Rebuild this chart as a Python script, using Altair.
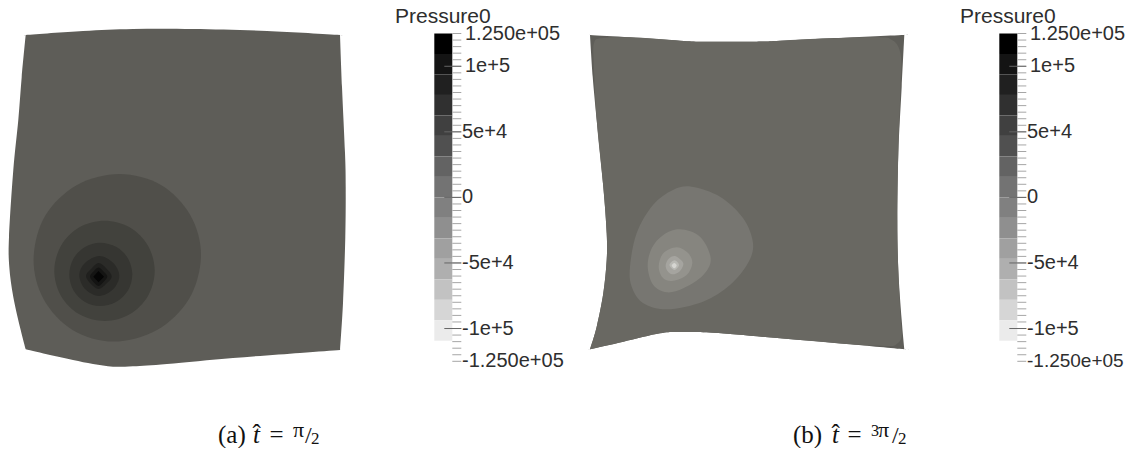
import altair as alt
import pandas as pd

# Image-space coordinates
A_OUT = [(25.7,35),(83,31),(133,29),(193,29),(267,31),(340,35),(342,87),(345,153),(345.7,187),(345.3,237),(343,303),(340,350),
         (300,353),(233,358),(167,364),(133,366.3),(113,366.7),(93,364),(73,360),(50,355),(25.7,349.3),(20.7,330),(13.3,297),
         (9.3,267),(9,237),(13.3,170),(18.3,120),(21.7,77)]
A_CORNERS = [0,5,11,20]
A_C1 = [(119.5,174),(161,185),(190.5,215.5),(201,256),(189,299),(157,330),(113.5,341.6),(72.5,330),(43.5,299),(33.6,259),(45,216),(77,185)]
A_C2 = [(104.5,220.7),(129.6,227.3),(148,245.7),(154.7,270.8),(148,295.9),(129.6,314.3),(105,321),(79.4,314.3),(61,295.9),(54.3,270.8),(61,245.7),(79.4,227.3)]
A_C3 = [(100,242.7),(116.5,247),(128,258.5),(132.3,274.5),(128,290.5),(116,302),(100,306),(85,302),(73.5,290.5),(69.3,274.5),(73.5,258.5),(85,247)]
A_C4 = [(99.3,256),(113.3,263),(119.3,276),(113.3,289),(99.3,296),(85,289),(79.3,275),(85,263)]
A_C5 = [(98.5,263),(106,268),(111.7,276.5),(106,284),(98.5,289),(91,284),(86,276),(91,269)]
A_C6 = [(98.5,267.5),(104,272),(107.3,276.5),(104,281.5),(98.5,286),(93,281.5),(90,276.5),(93,272)]
A_C7 = [(98.5,271),(104,276.7),(98.5,282.3),(93.3,276.7)]
A_COL = ["#5e5d58","#504f4a","#42423d","#363632","#2b2b28","#20201e","#141413","#050505"]

B_OUT = [(590,35),(630,37.3),(680,40.7),(703.3,41.7),(756.7,41.7),(780,40.7),(830,38.3),(904.3,35),(901.7,86.7),(898.3,153.3),
         (897.3,220),(898.3,270),(901.7,320),(904.3,349.3),(846.7,344),(780,338.3),(713.3,332.7),(680,332),(660,333.3),(623.3,341.7),
         (590,349.3),(596.7,326.7),(603.3,293.3),(606.7,260),(606.7,233.3),(603.3,186.7),(596.7,120),(592.7,76.7)]
B_CORNERS = [0,7,13,20]
B_IN = [(593.3,53.3),(594,43.3),(600,38.3),(630,37.3),(680,40.7),(703.3,41.7),(756.7,41.7),(780,40.7),(830,38.3),(880,37.3),(892,40),
        (898.3,46.7),(901.3,60),(900.5,86.7),(898.3,153.3),(897.3,220),(898.3,270),(900.7,320),(901.7,336.7),(896.7,344),(888.3,346),
        (846.7,344),(780,338.3),(713.3,332.7),(680,332),(660,333.3),(623.3,341.7),(590,349.3),(596.7,326.7),(603.3,293.3),(606.7,260),
        (606.7,233.3),(603.3,186.7),(596.7,120)]
B_IN_CORNERS = [27]
B_C1 = [(691.7,186.7),(720,196.7),(743,218),(753,243),(748,263),(730,285),(703,301.7),(666.7,309.3),(643,303),(631.7,286.7),(630,266.7),(636.7,233),(653,205),(673,190)]
B_C2 = [(680,229.3),(700,236.7),(710.7,258.3),(703.3,275),(683.3,288.3),(666.7,292.3),(653.3,285),(647.7,266.7),(651.7,248.3),(663.3,235)]
B_C3 = [(676.7,247.3),(688.3,253.3),(692.3,263.3),(686.7,275),(673.3,280.7),(663.3,278.3),(658.7,266.7),(663.3,253.3)]
B_C4 = [(675,256),(681.7,260.7),(683.3,265),(679.3,271.7),(672.3,274.3),(667.3,270.7),(665.7,265),(668.7,258.7)]
B_C5 = [(674.5,260.3),(679,265),(674.5,270),(669.5,265)]
B_C6 = [(674.3,263),(676.7,265.5),(674.3,268.3),(671.7,265.5)]
B_COL = ["#5e5d58","#696862","#777671","#86857f","#94938d","#a5a49f","#b9b9b4","#d6d6d2"]

BAR_EDGES = [125000,109375,93750,78125,62500,46875,31250,15625,0,-15625,-31250,-46875,-62500,-78125,-93750,-109375,-125000]
BAR_COLS = ["#000000","#141414","#202020","#303030","#404040","#505050","#636363","#737373","#808080","#8f8f8f","#a0a0a0",
            "#afafaf","#c2c2c2","#d6d6d6","#ebebeb","#ffffff"]
MAJOR = [100000,50000,0,-50000,-100000]
MINOR = list(range(-125000, 125001, 5000))
LABELS = [(125000,"1.250e+05",3),(100000,"1e+5",3),(50000,"5e+4",0),(0,"0",0),(-50000,"-5e+4",0),(-100000,"-1e+5",0),(-125000,"-1.250e+05",0)]
BAR_X = [(434.3,452.3),(999.3,1017.3)]
TITLE_X = [395,960]
LABEL_X = [462,1027]

X = alt.X("x:Q", scale=alt.Scale(domain=[8,1126], nice=False, zero=False), axis=None)
Y = alt.Y("y:Q", scale=alt.Scale(domain=[448,8], nice=False, zero=False), axis=None)

def py(p):
    return 197.4 - p * 0.0013112

def poly(pts, col, interp):
    df = pd.DataFrame({"x":[p[0] for p in pts], "y":[p[1] for p in pts], "i":list(range(len(pts)))})
    return alt.Chart(df).mark_line(interpolate=interp, fill=col, stroke=col, strokeWidth=0, strokeOpacity=0).encode(
        x=X, y=Y, order=alt.Order("i:Q"))

def sharp(pts, corners):
    out = []
    for i, p in enumerate(pts):
        out += [p] * (3 if i in corners else 1)
    return out + [pts[0]]

def text(x, y, s, size, font="Liberation Sans", color="#2e2e2e", style="normal", baseline="middle"):
    df = pd.DataFrame({"x":[x],"y":[y],"s":[s]})
    return alt.Chart(df).mark_text(align="left", baseline=baseline, font=font, fontSize=size, color=color, fontStyle=style).encode(
        x=X, y=Y, text="s:N")

layers = [poly(sharp(A_OUT,A_CORNERS),A_COL[0],"cardinal")]
for p,c in zip([A_C1,A_C2,A_C3,A_C4,A_C5,A_C6],A_COL[1:7]):
    layers.append(poly(p,c,"cardinal-closed"))
layers.append(poly(A_C7,A_COL[7],"linear-closed"))
layers.append(poly(sharp(B_OUT,B_CORNERS),B_COL[0],"cardinal"))
layers.append(poly(sharp(B_IN,B_IN_CORNERS),B_COL[1],"cardinal"))
for p,c in zip([B_C1,B_C2,B_C3,B_C4,B_C5,B_C6],B_COL[2:]):
    layers.append(poly(p,c,"cardinal-closed"))

for k,(x0,x1) in enumerate(BAR_X):
    bars = pd.DataFrame({"x":[x0]*16,"x2":[x1]*16,"y":[py(v) for v in BAR_EDGES[:-1]],"y2":[py(v) for v in BAR_EDGES[1:]],"c":BAR_COLS})
    layers.append(alt.Chart(bars).mark_rect().encode(x=X,x2="x2:Q",y=Y,y2="y2:Q",color=alt.Color("c:N",scale=None)))
    t = pd.DataFrame({"x":[x1]*len(MINOR),"x2":[x1+9]*len(MINOR),"y":[py(v) for v in MINOR]})
    layers.append(alt.Chart(t).mark_rule(color="#a6a6a6",strokeWidth=1).encode(x=X,x2="x2:Q",y=Y))
    m = pd.DataFrame({"x":[x1-8]*len(MAJOR),"x2":[x1+9]*len(MAJOR),"y":[py(v) for v in MAJOR]})
    layers.append(alt.Chart(m).mark_rule(color="#666666",strokeWidth=1).encode(x=X,x2="x2:Q",y=Y))
    layers.append(text(TITLE_X[k],23,"Pressure0",21,baseline="alphabetic"))
    for v,s,dx in LABELS:
        size = 19 if (k == 1 and v == -125000) else 20
        layers.append(text(LABEL_X[k]+dx,py(v),s,size))

SERIF="Liberation Serif"
INK="#111111"
def cap(x,y,s,size,style="normal"):
    return text(x,y,s,size,SERIF,INK,style,baseline="alphabetic")
layers += [cap(218,443,"(a)",25),cap(253,443,"t",25,"italic"),cap(252.5,442,"\u02c6",25),cap(269.5,443,"=",25),
           cap(293,437,"\u03c0",22),cap(305,443,"/",24),cap(311,444,"2",17),
           cap(793,443,"(b)",25),cap(832,443,"t",25,"italic"),cap(831.5,442,"\u02c6",25),cap(847.5,443,"=",25),
           cap(871,436,"3",16),cap(878,437,"\u03c0",22),cap(892,443,"/",24),cap(898,444,"2",17)]

chart = alt.layer(*layers).properties(width=1118,height=440,padding=0,autosize=alt.AutoSizeParams(type="none"),
    background="white").configure_view(stroke=None)
chart.save("out.html", embed_options={"renderer":"svg","actions":False})
